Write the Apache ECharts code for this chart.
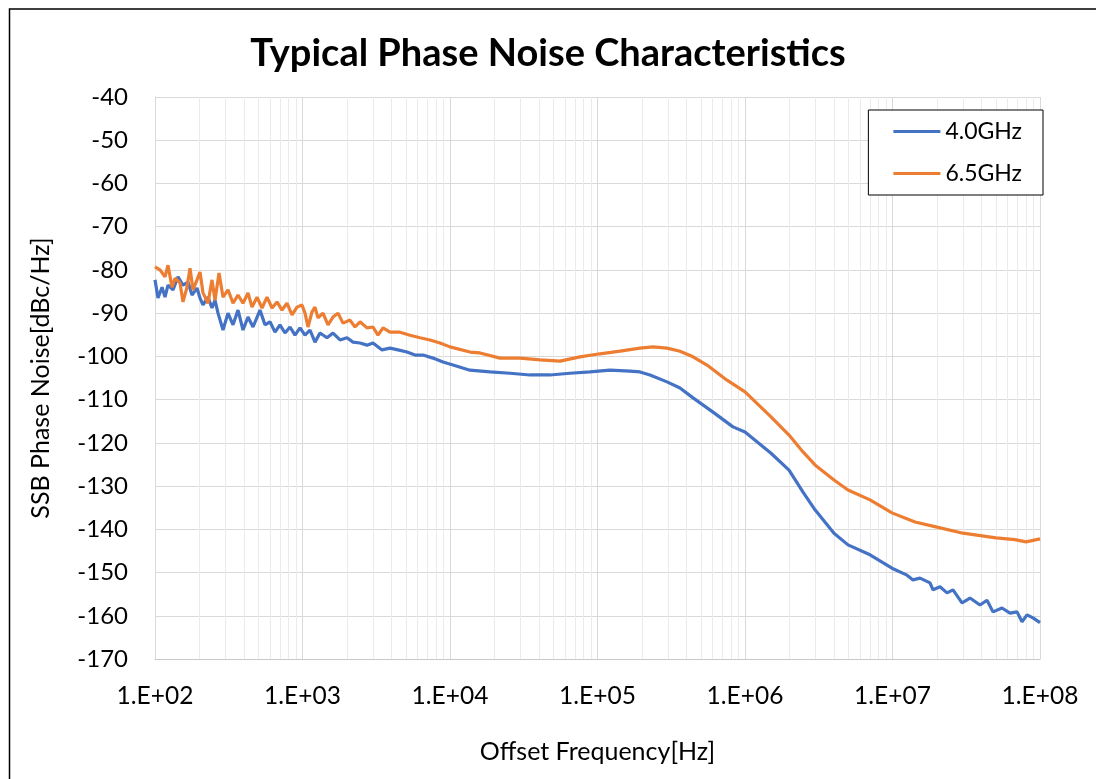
<!DOCTYPE html>
<html>
<head>
<meta charset="utf-8">
<script src="https://cdn.jsdelivr.net/npm/echarts@6/dist/echarts.min.js"></script>
<style>
html,body{margin:0;padding:0;background:#fff;}
#chart{width:1096px;height:779px;}
</style>
</head>
<body>
<div id="chart"></div>
<script>
// ---- Data ----
const seriesNames = ['4.0GHz', '6.5GHz'];
const yTicks = [-170, -40, 10]; // min, max, interval
const freq40 = [100,104.8,111.6,116.9,122.5,132.4,143.2,154.8,167.4,178.1,192.6,201.9,211.5,228.7,243.4,255.2,267.4,289.1,312.6,338.0,365.4,395.1,427.1,461.8,515.0,556.8,602.0,650.9,703.8,760.9,822.7,889.5,961.8,
  1040,1124,1215,1314,1466,1610,1796,2003,2200,2454,2737,3006,3459,3920,4442,5110,5790,6560,7668,8964,10480,
  13660,18670,25510,34860,47640,65100,88950,121500,166100,194200,226900,296000,362500,444200,606900,829000,
  1e6,1.501e6,1.988e6,2.474e6,2.983e6,4.012e6,4.993e6,7.04e6,9.92e6,
  1.254e7,1.377e7,1.536e7,1.796e7,1.882e7,2.099e7,2.342e7,2.572e7,2.959e7,3.353e7,3.920e7,4.372e7,4.802e7,5.525e7,6.262e7,6.985e7,7.551e7,8.164e7,8.966e7,1e8];
const pn40 = [-82.3,-86.5,-84.0,-86.3,-83.5,-84.6,-81.6,-83.5,-82.8,-85.8,-84.2,-86.5,-88.1,-86.3,-88.8,-87.0,-90.0,-93.9,-90.0,-92.7,-89.3,-93.9,-90.9,-93.2,-89.3,-92.7,-92.0,-94.4,-92.7,-94.6,-93.2,-95.1,-93.4,
  -95.1,-93.9,-96.7,-94.6,-95.7,-94.6,-96.2,-95.7,-96.7,-96.9,-97.4,-96.9,-98.5,-98.1,-98.5,-99.0,-99.7,-99.7,-100.4,-101.3,-102.0,
  -103.2,-103.6,-103.9,-104.3,-104.3,-103.9,-103.6,-103.2,-103.4,-103.6,-104.3,-105.9,-107.3,-109.6,-112.9,-116.3,
  -117.5,-122.4,-126.3,-131.4,-135.5,-140.9,-143.6,-145.9,-149.0,
  -150.6,-151.7,-151.3,-152.4,-154.0,-153.3,-154.7,-154.0,-157.0,-155.9,-157.5,-156.4,-159.1,-158.2,-159.4,-159.1,-161.4,-159.8,-160.5,-161.6];
const freq65 = [100,108.1,116.9,122.5,130.4,136.7,147.8,154.8,164.8,172.7,181.0,192.6,201.9,211.5,228.7,243.4,255.2,271.6,289.1,312.6,338.0,365.4,395.1,427.1,454.6,491.5,531.5,574.6,621.3,671.6,726.1,785.1,848.8,917.6,
  992.2,1040,1090,1160,1215,1274,1377,1489,1610,1741,1882,2099,2270,2454,2737,3006,3250,3514,3920,4581,5356,6262,7318,8554,10000,
  13660,15970,21830,29830,40760,55700,76110,104000,142100,194200,237800,296000,362500,444200,552500,755100,
  1e6,1.501e6,1.988e6,2.474e6,2.983e6,4.012e6,4.993e6,7.04e6,9.92e6,1.421e7,2.003e7,3.006e7,5.03e7,6.77e7,8.04e7,1e8];
const pn65 = [-79.3,-80.0,-81.6,-78.9,-84.0,-81.9,-83.0,-87.4,-84.0,-79.6,-84.6,-82.3,-80.5,-85.3,-87.7,-82.3,-87.0,-80.7,-86.3,-84.6,-87.7,-85.8,-87.7,-85.3,-88.6,-86.3,-88.8,-86.3,-88.8,-87.4,-89.3,-87.7,-90.4,-88.6,
  -88.1,-90.0,-93.2,-89.7,-88.6,-91.1,-90.0,-92.7,-90.9,-90.0,-92.3,-91.6,-93.2,-92.0,-93.4,-93.2,-95.1,-93.4,-94.4,-94.4,-95.1,-95.7,-96.2,-96.9,-97.8,
  -99.0,-99.2,-100.4,-100.4,-100.8,-101.1,-100.1,-99.4,-98.8,-98.1,-97.8,-98.1,-98.8,-100.1,-102.0,-105.5,
  -108.2,-114.0,-118.2,-122.1,-125.1,-128.6,-130.9,-133.2,-136.2,-138.3,-139.5,-140.9,-142.0,-142.4,-142.9,-142.2];
const xMin = 1e2, xMax = 1e8;

// minor grid positions (2..9 x 10^k)
const minorGrid = [];
for (let e = 2; e < 8; e++) for (let m = 2; m <= 9; m++) minorGrid.push(m * Math.pow(10, e));

const pair = (fs, vs) => fs.map((f, i) => [f, vs[i]]);
const FONT = 'Lato, "Open Sans", sans-serif';

const chart = echarts.init(document.getElementById('chart'), null, {renderer: 'canvas'});
chart.setOption({
  backgroundColor: '#fff',
  animation: false,
  title: {
    text: 'Typical Phase Noise Characteristics',
    left: 'center', top: 30,
    textStyle: {fontFamily: FONT, fontWeight: 'bold', fontSize: 38, color: '#000'}
  },
  legend: {
    data: seriesNames,
    orient: 'vertical',
    right: 53, top: 110,
    backgroundColor: '#fff',
    borderColor: '#000', borderWidth: 1,
    padding: [10, 21, 10, 25],
    itemWidth: 47, itemHeight: 3, icon: 'rect', itemGap: 19,
    textStyle: {fontFamily: FONT, fontSize: 23, color: '#000'}
  },
  grid: {left: 155, right: 56, top: 97, bottom: 120},
  xAxis: {
    type: 'log', logBase: 10, min: xMin, max: xMax,
    splitNumber: 6,
    name: 'Offset Frequency[Hz]', nameLocation: 'middle', nameGap: 80,
    nameTextStyle: {fontFamily: FONT, fontSize: 25, color: '#000'},
    axisLine: {show: true, lineStyle: {color: '#c8c8c8', width: 1}},
    axisTick: {show: false},
    axisLabel: {
      fontFamily: FONT, fontSize: 24.5, color: '#000', margin: 25,
      formatter: v => '1.E+' + String(Math.round(Math.log10(v))).padStart(2, '0')
    },
    splitLine: {show: true, lineStyle: {color: '#d9d9d9', width: 1}}
  },
  yAxis: {
    type: 'value', min: yTicks[0], max: yTicks[1], interval: yTicks[2],
    name: 'SSB Phase Noise[dBc/Hz]', nameLocation: 'middle', nameGap: 102,
    nameTextStyle: {fontFamily: FONT, fontSize: 25, color: '#000'},
    axisLine: {show: true, lineStyle: {color: '#d9d9d9', width: 1}},
    axisTick: {show: false},
    axisLabel: {fontFamily: FONT, fontSize: 24, color: '#000', margin: 27},
    splitLine: {show: true, lineStyle: {color: '#d9d9d9', width: 1}}
  },
  graphic: [{
    type: 'rect', silent: true, z: 100,
    shape: {x: 9.5, y: 9, width: 2000, height: 2000},
    style: {fill: 'none', stroke: '#000', lineWidth: 1.5}
  }],
  series: [
    {
      type: 'custom', name: 'minor', silent: true, z: 1,
      data: minorGrid,
      renderItem: (params, api) => {
        const x = api.coord([api.value(0), yTicks[1]])[0];
        const yTop = api.coord([xMin, yTicks[1]])[1];
        const yBot = api.coord([xMin, yTicks[0]])[1];
        return {type: 'line', shape: {x1: Math.round(x) + 0.5, y1: yTop, x2: Math.round(x) + 0.5, y2: yBot},
                style: {stroke: '#ebebeb', lineWidth: 1}};
      },
      encode: {x: 0}
    },
    {
      name: seriesNames[0], type: 'line', z: 3, symbol: 'none', smooth: false,
      data: pair(freq40, pn40),
      itemStyle: {color: '#4472C4'},
      lineStyle: {color: '#4472C4', width: 3.2}
    },
    {
      name: seriesNames[1], type: 'line', z: 3, symbol: 'none', smooth: false,
      data: pair(freq65, pn65),
      itemStyle: {color: '#ED7D31'},
      lineStyle: {color: '#ED7D31', width: 3.2}
    }
  ]
});
</script>
</body>
</html>
